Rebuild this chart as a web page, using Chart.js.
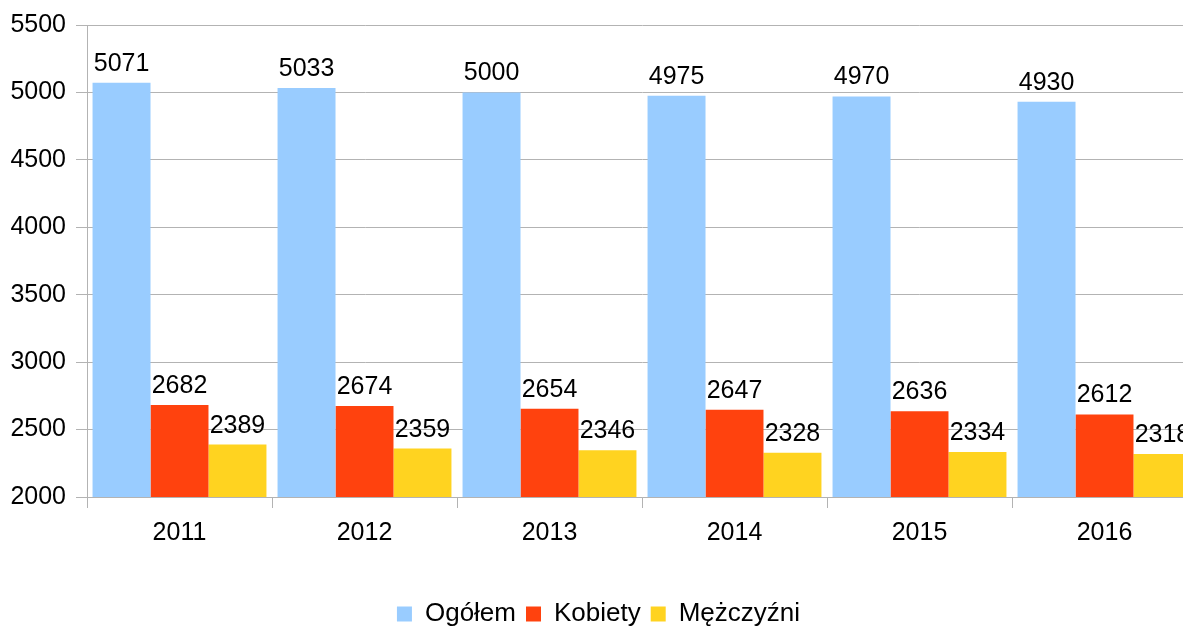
<!DOCTYPE html>
<html>
<head>
<meta charset="utf-8">
<script src="https://cdn.jsdelivr.net/npm/chart.js@4"></script>
<style>
    body { margin: 0; overflow: hidden; background: #fff; }
</style>
</head>
<body>
<canvas id="chart" width="1200" height="626"></canvas>
<script>
// Data
const years = ["2011", "2012", "2013", "2014", "2015", "2016"];
const ogolem = [5071, 5033, 5000, 4975, 4970, 4930];
const kobiety = [2682, 2674, 2654, 2647, 2636, 2612];
const mezczyzni = [2389, 2359, 2346, 2328, 2334, 2318];

const FONT = "'Liberation Sans', Arial, sans-serif";

// value labels above the bars
const barLabels = {
    id: "barLabels",
    afterDatasetsDraw(chart) {
        const ctx = chart.ctx;
        ctx.save();
        ctx.font = "25px " + FONT;
        ctx.fillStyle = "#000";
        ctx.textAlign = "center";
        ctx.textBaseline = "alphabetic";
        chart.data.datasets.forEach((ds, i) => {
            chart.getDatasetMeta(i).data.forEach((bar, j) => {
                ctx.fillText(String(ds.data[j]), bar.x, bar.y - 12);
            });
        });
        ctx.restore();
    }
};

new Chart(document.getElementById("chart"), {
    type: "bar",
    data: {
        labels: years,
        datasets: [
            { label: "Ogółem", data: ogolem, backgroundColor: "#99ccff" },
            { label: "Kobiety", data: kobiety, backgroundColor: "#ff420e" },
            { label: "Mężczyźni", data: mezczyzni, backgroundColor: "#ffd320" }
        ]
    },
    options: {
        responsive: false,
        animation: false,
        layout: { padding: { top: 25, right: 3, left: 0, bottom: -11 } },
        datasets: {
            bar: { categoryPercentage: 0.94, barPercentage: 1.0 }
        },
        scales: {
            x: {
                grid: { offset: true, drawOnChartArea: false, color: "#b3b3b3", tickLength: 11 },
                border: { color: "#b3b3b3" },
                ticks: { color: "#000", font: { family: FONT, size: 25 }, padding: 10 },
                afterFit: (s) => { s.height = 94; }
            },
            y: {
                min: 2000,
                max: 5500,
                grid: { color: "#b3b3b3", tickLength: 11 },
                border: { color: "#b3b3b3" },
                ticks: {
                    stepSize: 500,
                    color: "#000",
                    font: { family: FONT, size: 25 },
                    padding: 10,
                    callback: (v) => String(v)
                },
                afterFit: (s) => { s.width = 87; }
            }
        },
        plugins: {
            legend: {
                position: "bottom",
                labels: {
                    color: "#000",
                    font: { family: FONT, size: 26 },
                    boxWidth: 15,
                    boxHeight: 15,
                    padding: 10
                }
            },
            tooltip: { enabled: false }
        }
    },
    plugins: [barLabels]
});
</script>
</body>
</html>
